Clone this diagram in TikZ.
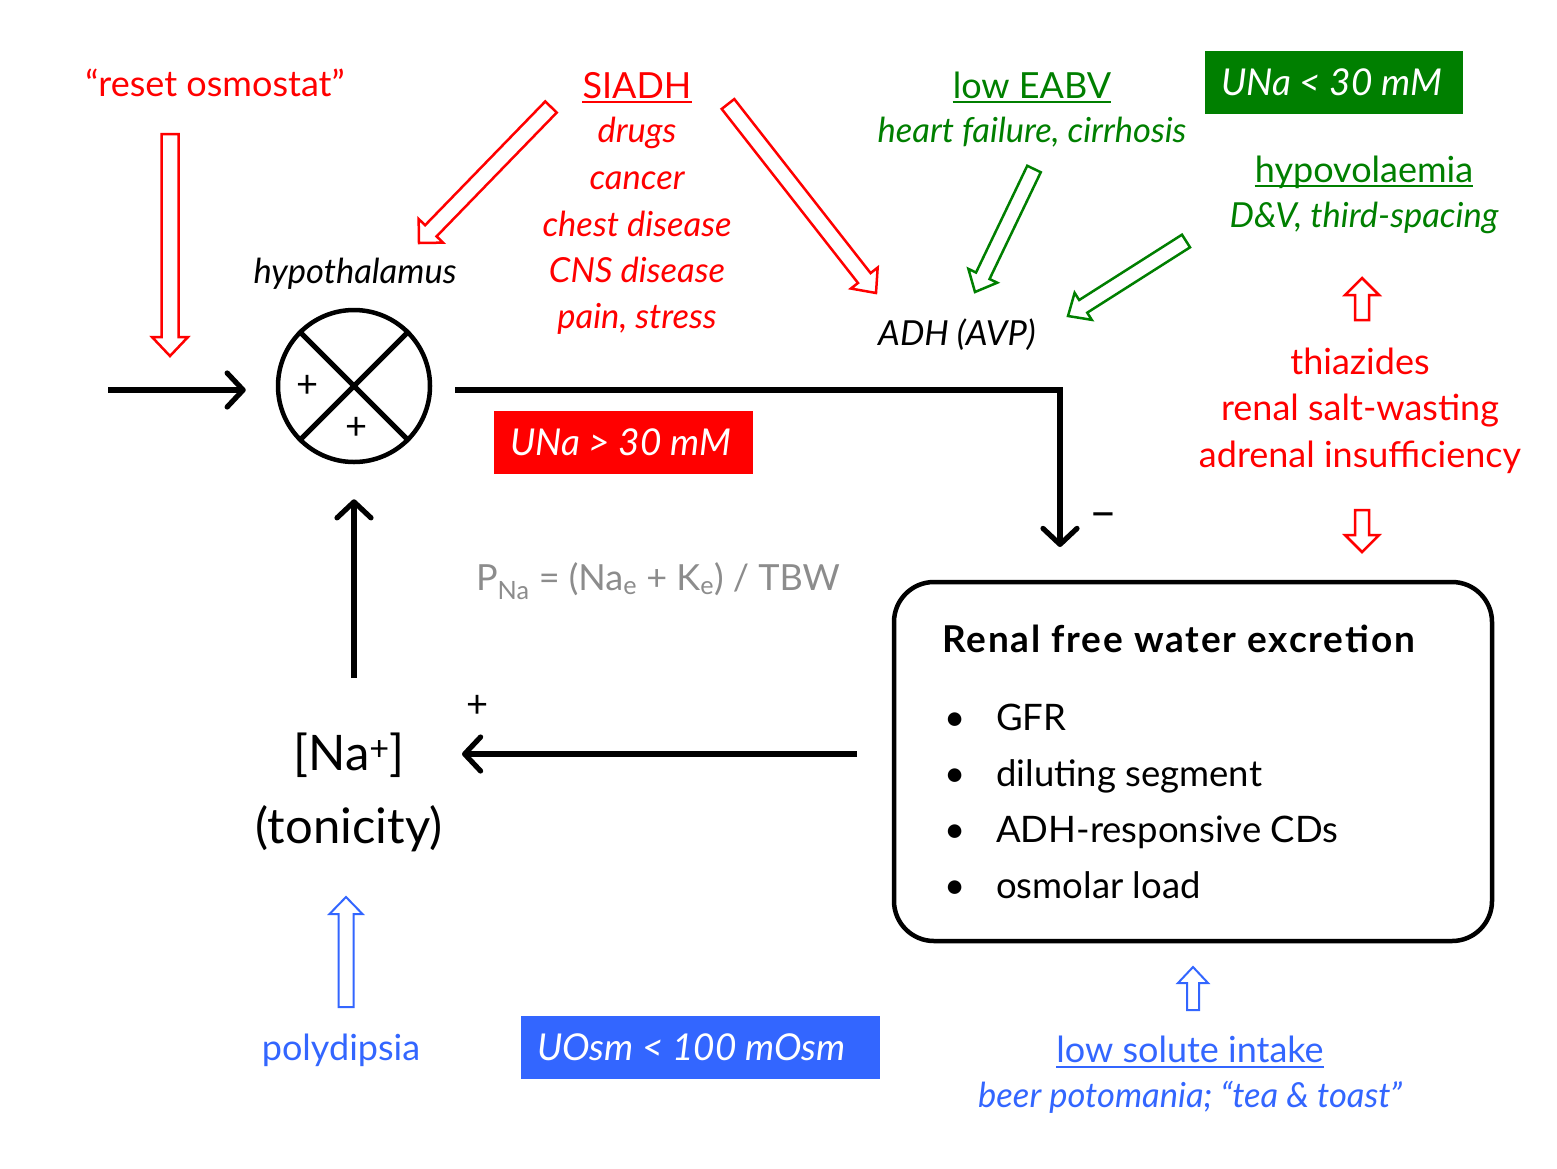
\documentclass[tikz,border=0pt]{standalone}
\usepackage{fontspec}
\setmainfont{Lato}
\usetikzlibrary{calc,arrows.meta}
\definecolor{cred}{HTML}{FF0000}
\definecolor{cgreen}{HTML}{007F00}
\definecolor{cblue}{HTML}{3366FF}
\definecolor{cgray}{HTML}{8C8C8C}
% hollow block arrow: #1 colour/options, #2 from, #3 to, #4 shaft half width, #5 head half width, #6 head length
\newcommand\blockarrow[6]{%
  \coordinate (bamid) at ($(#3)!#6!(#2)$);
  \draw[hollow,#1] ($(#2)!#4!90:(#3)$) -- ($(bamid)!#4!90:(#3)$) -- ($(bamid)!#5!90:(#3)$) -- (#3)
    -- ($(bamid)!#5!-90:(#3)$) -- ($(bamid)!#4!-90:(#3)$) -- ($(#2)!#4!-90:(#3)$) -- cycle;}
\begin{document}
\begin{tikzpicture}[x=1pt,y=-1pt,
  every node/.style={inner sep=0pt,anchor=base},
  rg/.style={font=\fontsize{36}{40}\selectfont},
  it/.style={font=\fontsize{34.5}{40}\selectfont\itshape},
  wt/.style={font=\fontsize{37}{40}\selectfont\itshape,text=white,anchor=west},
  bx/.style={font=\fontsize{36.5}{40}\selectfont},
  bd/.style={font=\fontsize{37}{40}\selectfont\bfseries\addfontfeature{LetterSpace=5}},
  big/.style={font=\fontsize{49}{54}\selectfont},
  sm/.style={font=\fontsize{38}{40}\selectfont},
  hollow/.style={line width=2.5pt,line join=miter,fill=white},
  blk/.style={line width=5.2pt,-{Straight Barb[length=16pt,width=34pt,round]}},
  ul/.style={line width=2.2pt},
  tagbox/.style={minimum width=#1,minimum height=63pt,anchor=north west}]
\useasboundingbox (0,0) rectangle (1557,1168);

% ---------- left column ----------
\node[rg,text=cred] (reset) at (215,96) {“reset osmostat”};
\coordinate (resetA) at (170,134);
\coordinate (resetB) at (170,356);
\blockarrow{draw=cred}{resetA}{resetB}{8.5pt}{18pt}{19pt}

\node[it] (hypo) at (355,283) {hypothalamus};
\node[circle,draw,line width=4.5pt,minimum size=152pt,anchor=center] (circ) at (354,386) {};
\draw[line width=5pt] (circ.45) -- (circ.225) (circ.135) -- (circ.-45);
\node[sm,anchor=center] (p1) at (308,386) {+};
\node[sm,anchor=center] (p2) at (357,428) {+};
\coordinate (inL) at (108,390);
\draw[blk] (inL) -- ([xshift=-30pt,yshift=-4pt]circ.west);

% ---------- SIADH ----------
\node[rg,text=cred] (siadh) at (637,98) {SIADH};
\draw[ul,cred] ([yshift=-4pt]siadh.base west) -- ([yshift=-4pt]siadh.base east);
\node[it,text=cred] (s1) at (637,142) {drugs};
\node[it,text=cred] (s2) at (637,189) {cancer};
\node[it,text=cred] (s3) at (637,236) {chest disease};
\node[it,text=cred] (s4) at (637,282) {CNS disease};
\node[it,text=cred] (s5) at (637,328) {pain, stress};
\coordinate (sa1) at (551,107);
\coordinate (sa1t) at (419,243);
\blockarrow{draw=cred}{sa1}{sa1t}{8pt}{17pt}{17pt}
\coordinate (sa2) at (728,104);
\coordinate (sa2t) at (876,293);
\blockarrow{draw=cred}{sa2}{sa2t}{8pt}{17pt}{19pt}

% ---------- ADH / green ----------
\node[it] (adh) at (957,345) {ADH (AVP)};
\node[rg,text=cgreen] (eabv) at (1032,98) {low EABV};
\draw[ul,cgreen] ([yshift=-4pt]eabv.base west) -- ([yshift=-4pt]eabv.base east);
\node[it,text=cgreen] (hf) at (1032,142) {heart failure, cirrhosis};
\node[fill=cgreen,tagbox=258pt] (unaLow) at (1205,51) {};
\node[wt] (unaLowT) at ([xshift=16pt]unaLow.west) {UNa < 30 mM};
\node[rg,text=cgreen] (hypov) at (1364,182) {hypovolaemia};
\draw[ul,cgreen] ([yshift=-4pt]hypov.base west) -- ([yshift=-4pt]hypov.base east);
\node[it,text=cgreen] (dv) at (1364,227) {D\&V, third-spacing};
\coordinate (ga1) at (1034,169);
\coordinate (ga1t) at (975,292);
\blockarrow{draw=cgreen}{ga1}{ga1t}{7.5pt}{16pt}{18pt}
\coordinate (ga2) at (1186,241);
\coordinate (ga2t) at (1068,316);
\blockarrow{draw=cgreen}{ga2}{ga2t}{7.5pt}{16pt}{18pt}

% ---------- red right ----------
\coordinate (ru) at (1362,320);
\coordinate (rut) at (1362,278);
\blockarrow{draw=cred}{ru}{rut}{7pt}{17pt}{17pt}
\node[rg,text=cred] (th1) at (1360,374) {thiazides};
\node[rg,text=cred] (th2) at (1360,420) {renal salt-wasting};
\node[rg,text=cred] (th3) at (1360,467) {adrenal insufficiency};
\coordinate (rd) at (1362,510);
\coordinate (rdt) at (1362,552);
\blockarrow{draw=cred}{rd}{rdt}{7pt}{17pt}{17pt}

% ---------- main loop ----------
\node[fill=cred,tagbox=259pt] (unaHigh) at (494,411) {};
\node[wt] (unaHighT) at ([xshift=16pt]unaHigh.west) {UNa > 30 mM};
\coordinate (negtip) at (1060,547);
\draw[blk,line join=miter] ([xshift=23pt,yshift=-4pt]circ.east) -| (negtip);
\node[font=\fontsize{48}{50}\selectfont,anchor=center] (minus) at (1103,521) {–};

\node[rg,text=cgray] (pna) at (658,590) {P\textsubscript{Na} = (Na\textsubscript{e} + K\textsubscript{e}) / TBW};

\draw[line width=4.5pt,rounded corners=40pt] (894,582) rectangle (1492,941);
\coordinate (boxW) at (894,754);
\node[bd,anchor=base west] (title) at (942,652) {Renal free water excretion};
\node[bx] (b1) at (955,730) {•};
\node[bx,anchor=base west] (t1) at (996,730) {GFR};
\node[bx] (b2) at (955,786) {•};
\node[bx,anchor=base west] (t2) at (996,786) {diluting segment};
\node[bx] (b3) at (955,842) {•};
\node[bx,anchor=base west] (t3) at (996,842) {ADH-responsive CDs};
\node[bx] (b4) at (955,898) {•};
\node[bx,anchor=base west] (t4) at (996,898) {osmolar load};

\node[big] (na) at (349,770) {[Na\textsuperscript{+}]};
\node[big] (ton) at (349,843) {(tonicity)};
\coordinate (naR) at (462,754);
\draw[blk] ([xshift=-37pt]boxW) -- (naR);
\node[sm,anchor=center] (p3) at (478,706) {+};
\draw[blk] (354,678) -- ([yshift=-35pt]circ.south);

% ---------- blue ----------
\coordinate (ba) at (346,1007);
\coordinate (bat) at (346,897);
\blockarrow{draw=cblue,line width=2pt}{ba}{bat}{7.5pt}{16.5pt}{17pt}
\node[rg,text=cblue] (poly) at (341,1060) {polydipsia};
\node[fill=cblue,tagbox=359pt] (uosm) at (521,1016) {};
\node[wt] (uosmT) at ([xshift=16pt]uosm.west) {UOsm < 100 mOsm};
\coordinate (bb) at (1193,1010);
\coordinate (bbt) at (1193,967);
\blockarrow{draw=cblue,line width=2pt}{bb}{bbt}{6pt}{15pt}{16pt}
\node[rg,text=cblue] (lsi) at (1190,1062) {low solute intake};
\draw[ul,cblue] ([yshift=-5pt]lsi.base west) -- ([yshift=-5pt]lsi.base east);
\node[it,text=cblue] (beer) at (1190,1107) {beer potomania; “tea \& toast”};
\end{tikzpicture}
\end{document}
